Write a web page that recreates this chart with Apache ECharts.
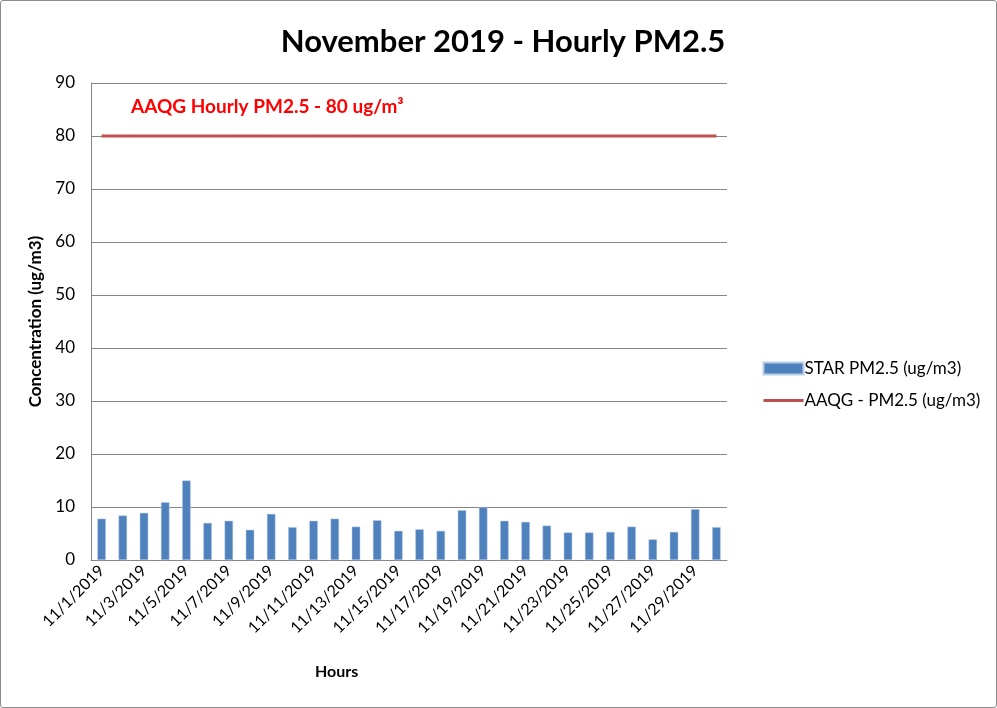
<!DOCTYPE html>
<html><head><meta charset="utf-8">
<script src="https://cdn.jsdelivr.net/npm/echarts@6/dist/echarts.min.js"></script>
<style>html,body{margin:0;padding:0;background:#fff}#c{width:997px;height:708px;box-sizing:border-box;border:1px solid #8c8c8c;border-radius:3px}</style>
</head><body><div id="c"></div>
<script>
const categories = ["11/1/2019","11/2/2019","11/3/2019","11/4/2019","11/5/2019","11/6/2019","11/7/2019","11/8/2019","11/9/2019","11/10/2019","11/11/2019","11/12/2019","11/13/2019","11/14/2019","11/15/2019","11/16/2019","11/17/2019","11/18/2019","11/19/2019","11/20/2019","11/21/2019","11/22/2019","11/23/2019","11/24/2019","11/25/2019","11/26/2019","11/27/2019","11/28/2019","11/29/2019","11/30/2019"];
const starPM25 = [7.8,8.4,8.9,10.9,15.0,7.0,7.4,5.7,8.7,6.2,7.4,7.8,6.3,7.5,5.5,5.8,5.5,9.4,10.0,7.4,7.2,6.5,5.2,5.2,5.3,6.3,3.9,5.3,9.6,6.2];
const aaqgPM25 = categories.map(() => 80);
const yTicks = {min: 0, max: 90, interval: 10};
const FONT = "Lato";
const chart = echarts.init(document.getElementById('c'));
chart.setOption({
  animation: false,
  textStyle: {fontFamily: FONT},
  title: [{
    text: 'November 2019 - Hourly PM2.5',
    left: 497, top: 20, textAlign: 'center',
    textStyle: {fontSize: 31, fontWeight: 'bold', color: '#000', fontFamily: FONT}
  }],
  graphic: [{
    type: 'text', left: 130, top: 96,
    style: {text: 'AAQG Hourly PM2.5 - 80 ug/m³', fill: '#FF0000', font: 'bold 19px Lato'}
  }, {
    type: 'text', left: 314, top: 663,
    style: {text: 'Hours', fill: '#000', font: 'bold 16px Lato'}
  }],
  legend: {
    orient: 'vertical', left: 756, top: 354, itemGap: 15,
    itemWidth: 40, itemHeight: 12,
    textStyle: {fontSize: 17, color: '#000', fontFamily: FONT, padding: [0, 0, 0, -4]},
    data: [{name: 'STAR PM2.5 (ug/m3)', icon: 'rect'},
           {name: 'AAQG - PM2.5 (ug/m3)', itemStyle: {opacity: 0}, lineStyle: {width: 3, color: '#C0504D'}}]
  },
  grid: {left: 90, top: 82, width: 636, height: 477, containLabel: false},
  xAxis: {
    type: 'category', data: categories, boundaryGap: true,
    axisLine: {lineStyle: {color: '#868686', width: 1}},
    axisTick: {show: false},
    axisLabel: {interval: 1, rotate: 45, fontSize: 16, color: '#000', margin: 8, fontFamily: FONT}
  },
  yAxis: {
    type: 'value', min: yTicks.min, max: yTicks.max, interval: yTicks.interval,
    name: 'Concentration (ug/m3)', nameLocation: 'middle', nameGap: 46,
    nameTextStyle: {fontSize: 17, fontWeight: 'bold', color: '#000', fontFamily: FONT},
    axisLine: {show: true, lineStyle: {color: '#868686', width: 1}},
    axisTick: {show: false},
    splitLine: {lineStyle: {color: '#868686', width: 1}},
    axisLabel: {fontSize: 17, color: '#000', margin: 16, fontFamily: FONT}
  },
  series: [
    {name: 'STAR PM2.5 (ug/m3)', type: 'bar', data: starPM25, barWidth: '40%',
     itemStyle: {color: '#4F81BD', borderColor: '#B9CDE5', borderWidth: 0.5}},
    {name: 'AAQG - PM2.5 (ug/m3)', type: 'line', data: aaqgPM25, symbol: 'none',
     lineStyle: {color: '#C0504D', width: 3}, itemStyle: {color: '#C0504D'}}
  ]
});
</script></body></html>
